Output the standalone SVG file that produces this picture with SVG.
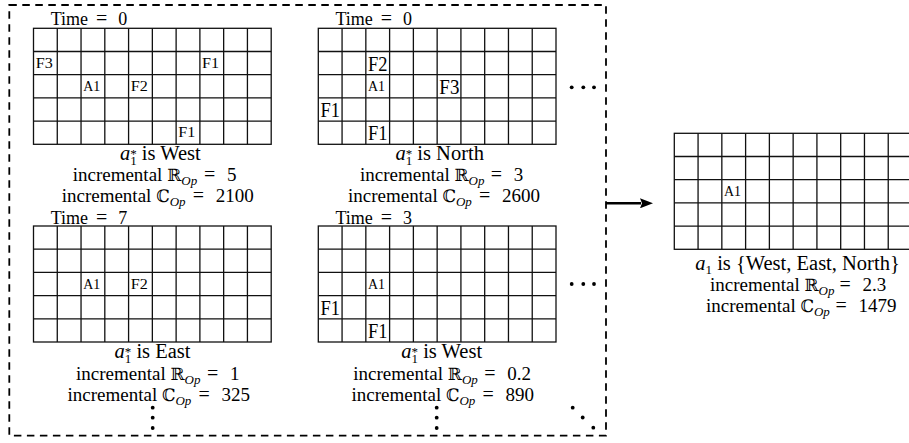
<svg xmlns="http://www.w3.org/2000/svg" xmlns:xlink="http://www.w3.org/1999/xlink" width="909" height="443" viewBox="0 0 909 443">
<style>
.t { font-family: "Liberation Serif", "DejaVu Serif", serif; font-size: 19px; fill: #000; }
.c1 { font-size: 20.5px; }
.tm { font-family: "Liberation Serif", "DejaVu Serif", serif; font-size: 18px; fill: #000; }
.s { font-size: 13px; }
.i { font-style: italic; }
.eq { font-size: 20px; }
.bb { font-family: "DejaVu Serif", "DejaVu Sans", serif; font-size: 17px; }
.lb { font-family: "Liberation Serif", "DejaVu Serif", serif; font-size: 14px; fill: #000; }
.lbs { font-size: 17px; }
.g { fill: none; stroke: #111; stroke-width: 1.3; }
.box { fill: none; stroke: #000; stroke-width: 1.8; stroke-dasharray: 7.5 5.5; }
.dot { fill: #000; }
.arrow { stroke: #000; stroke-width: 2.6; fill: none; }
</style>
<defs>
  <g id="grid">
    <rect x="0" y="0" width="237.7" height="116" fill="#fff"/>
    <path class="g" d="M23.77 0V116M47.54 0V116M71.31 0V116M95.08 0V116M118.85 0V116M142.62 0V116M166.39 0V116M190.16 0V116M213.93 0V116M0 23.2H237.7M0 46.4H237.7M0 69.6H237.7M0 92.8H237.7"/>
    <rect class="g" x="0" y="0" width="237.7" height="116"/>
  </g>
  <marker id="head" viewBox="0 0 13 10" markerWidth="13" markerHeight="10" refX="1" refY="5" orient="auto" markerUnits="userSpaceOnUse">
    <path d="M0 0 L13 5 L0 10 L2 5 Z" fill="#000"/>
  </marker>
</defs>
<rect x="0" y="0" width="909" height="443" fill="#fff"/>

<g id="frame">
  <rect class="box" x="9.3" y="5" width="596.7" height="430.7"/>
</g>

<g id="panel-time0-west">
  <text class="tm" y="25"><tspan x="50.7">Time</tspan><tspan class="eq" x="96">=</tspan><tspan x="118.3">0</tspan></text>
  <g transform="translate(33.5,28.3)">
    <use xlink:href="#grid" href="#grid"/>
    <text class="lb" x="2.2" y="39.6" textLength="17" lengthAdjust="spacingAndGlyphs">F3</text>
    <text class="lb" x="168.59" y="39.6" textLength="17" lengthAdjust="spacingAndGlyphs">F1</text>
    <text class="lb" x="49.74" y="62.8" textLength="17" lengthAdjust="spacingAndGlyphs">A1</text>
    <text class="lb" x="97.28" y="62.8" textLength="17" lengthAdjust="spacingAndGlyphs">F2</text>
    <text class="lb" x="144.82" y="109.2" textLength="17" lengthAdjust="spacingAndGlyphs">F1</text>
  </g>
  <text class="t c1" x="160.3" y="160" text-anchor="middle"><tspan class="i">a</tspan><tspan class="s" dy="-2">*</tspan><tspan class="s" dx="-6.5" dy="7">1</tspan><tspan dy="-5"> is West</tspan></text>
  <text class="t" y="181"><tspan x="72.7">incremental </tspan><tspan class="bb">ℝ</tspan><tspan class="s i" dy="4">Op</tspan><tspan class="eq" x="204" dy="-4">=</tspan><tspan x="227">5</tspan></text>
  <text class="t" y="201.5"><tspan x="61.7">incremental </tspan><tspan class="bb">ℂ</tspan><tspan class="s i" dy="4">Op</tspan><tspan class="eq" x="192.7" dy="-4">=</tspan><tspan x="215.7">2100</tspan></text>
</g>

<g id="panel-time0-north">
  <text class="tm" y="25"><tspan x="335.5">Time</tspan><tspan class="eq" x="380.8">=</tspan><tspan x="403.1">0</tspan></text>
  <g transform="translate(318.3,28.3)">
    <use xlink:href="#grid" href="#grid"/>
    <text class="lb lbs" transform="translate(49.74,42.2) scale(1,1.2)" textLength="19.5" lengthAdjust="spacingAndGlyphs">F2</text>
    <text class="lb" x="49.74" y="62.8" textLength="17" lengthAdjust="spacingAndGlyphs">A1</text>
    <text class="lb lbs" transform="translate(121.05,65.4) scale(1,1.2)" textLength="20" lengthAdjust="spacingAndGlyphs">F3</text>
    <text class="lb lbs" transform="translate(2.2,88.6) scale(1,1.2)" textLength="19.5" lengthAdjust="spacingAndGlyphs">F1</text>
    <text class="lb lbs" transform="translate(49.74,111.8) scale(1,1.2)" textLength="19.5" lengthAdjust="spacingAndGlyphs">F1</text>
  </g>
  <text class="t c1" x="439.7" y="160" text-anchor="middle"><tspan class="i">a</tspan><tspan class="s" dy="-2">*</tspan><tspan class="s" dx="-6.5" dy="7">1</tspan><tspan dy="-5"> is North</tspan></text>
  <text class="t" y="181"><tspan x="360">incremental </tspan><tspan class="bb">ℝ</tspan><tspan class="s i" dy="4">Op</tspan><tspan class="eq" x="490.7" dy="-4">=</tspan><tspan x="513.7">3</tspan></text>
  <text class="t" y="201.5"><tspan x="348">incremental </tspan><tspan class="bb">ℂ</tspan><tspan class="s i" dy="4">Op</tspan><tspan class="eq" x="479" dy="-4">=</tspan><tspan x="502">2600</tspan></text>
</g>

<g id="panel-time7-east">
  <text class="tm" y="224"><tspan x="50.7">Time</tspan><tspan class="eq" x="96">=</tspan><tspan x="118.3">7</tspan></text>
  <g transform="translate(33.5,226)">
    <use xlink:href="#grid" href="#grid"/>
    <text class="lb" x="49.74" y="62.8" textLength="17" lengthAdjust="spacingAndGlyphs">A1</text>
    <text class="lb" x="97.28" y="62.8" textLength="17" lengthAdjust="spacingAndGlyphs">F2</text>
  </g>
  <text class="t c1" x="152.5" y="358.3" text-anchor="middle"><tspan class="i">a</tspan><tspan class="s" dy="-2">*</tspan><tspan class="s" dx="-6.5" dy="7">1</tspan><tspan dy="-5"> is East</tspan></text>
  <text class="t" y="380"><tspan x="76">incremental </tspan><tspan class="bb">ℝ</tspan><tspan class="s i" dy="4">Op</tspan><tspan class="eq" x="207" dy="-4">=</tspan><tspan x="230">1</tspan></text>
  <text class="t" y="400.5"><tspan x="67.5">incremental </tspan><tspan class="bb">ℂ</tspan><tspan class="s i" dy="4">Op</tspan><tspan class="eq" x="198.5" dy="-4">=</tspan><tspan x="221.5">325</tspan></text>
</g>

<g id="panel-time3-west">
  <text class="tm" y="224"><tspan x="335.5">Time</tspan><tspan class="eq" x="380.8">=</tspan><tspan x="403.1">3</tspan></text>
  <g transform="translate(318.3,226)">
    <use xlink:href="#grid" href="#grid"/>
    <text class="lb" x="49.74" y="62.8" textLength="17" lengthAdjust="spacingAndGlyphs">A1</text>
    <text class="lb lbs" transform="translate(2.2,88.6) scale(1,1.2)" textLength="19.5" lengthAdjust="spacingAndGlyphs">F1</text>
    <text class="lb lbs" transform="translate(49.74,111.8) scale(1,1.2)" textLength="19.5" lengthAdjust="spacingAndGlyphs">F1</text>
  </g>
  <text class="t c1" x="441.7" y="358.3" text-anchor="middle"><tspan class="i">a</tspan><tspan class="s" dy="-2">*</tspan><tspan class="s" dx="-6.5" dy="7">1</tspan><tspan dy="-5"> is West</tspan></text>
  <text class="t" y="380"><tspan x="353.3">incremental </tspan><tspan class="bb">ℝ</tspan><tspan class="s i" dy="4">Op</tspan><tspan class="eq" x="484.3" dy="-4">=</tspan><tspan x="507.3">0.2</tspan></text>
  <text class="t" y="400.5"><tspan x="351.5">incremental </tspan><tspan class="bb">ℂ</tspan><tspan class="s i" dy="4">Op</tspan><tspan class="eq" x="482.5" dy="-4">=</tspan><tspan x="505.5">890</tspan></text>
</g>

<g id="ellipses">
  <circle class="dot" cx="571.7" cy="87.3" r="1.9"/>
  <circle class="dot" cx="583.3" cy="87.3" r="1.9"/>
  <circle class="dot" cx="594" cy="87.3" r="1.9"/>
  <circle class="dot" cx="571.7" cy="284" r="1.9"/>
  <circle class="dot" cx="583.3" cy="284" r="1.9"/>
  <circle class="dot" cx="594" cy="284" r="1.9"/>
  <circle class="dot" cx="152.7" cy="407.7" r="1.9"/>
  <circle class="dot" cx="152.7" cy="417.7" r="1.9"/>
  <circle class="dot" cx="152.7" cy="428" r="1.9"/>
  <circle class="dot" cx="436.7" cy="407.7" r="1.9"/>
  <circle class="dot" cx="436.7" cy="417.7" r="1.9"/>
  <circle class="dot" cx="436.7" cy="428" r="1.9"/>
  <circle class="dot" cx="572.7" cy="407.7" r="1.9"/>
  <circle class="dot" cx="582.7" cy="417.5" r="1.9"/>
  <circle class="dot" cx="593.3" cy="427.7" r="1.9"/>
</g>

<g id="connectors">
  <line class="arrow" x1="606" y1="203.3" x2="641" y2="203.3" marker-end="url(#head)"/>
</g>

<g id="panel-result">
  <g transform="translate(674.3,133.3)">
    <use xlink:href="#grid" href="#grid"/>
    <text class="lb" x="49.74" y="62.8" textLength="17" lengthAdjust="spacingAndGlyphs">A1</text>
  </g>
  <text class="t c1" x="797.5" y="270" text-anchor="middle"><tspan class="i">a</tspan><tspan class="s" dy="4">1</tspan><tspan dy="-4"> is {West, East, North}</tspan></text>
  <text class="t" y="291"><tspan x="710">incremental </tspan><tspan class="bb">ℝ</tspan><tspan class="s i" dy="4">Op</tspan><tspan class="eq" x="839.5" dy="-4">=</tspan><tspan x="862.5">2.3</tspan></text>
  <text class="t" y="311.5"><tspan x="706">incremental </tspan><tspan class="bb">ℂ</tspan><tspan class="s i" dy="4">Op</tspan><tspan class="eq" x="835.5" dy="-4">=</tspan><tspan x="858.6">1479</tspan></text>
</g>
</svg>
